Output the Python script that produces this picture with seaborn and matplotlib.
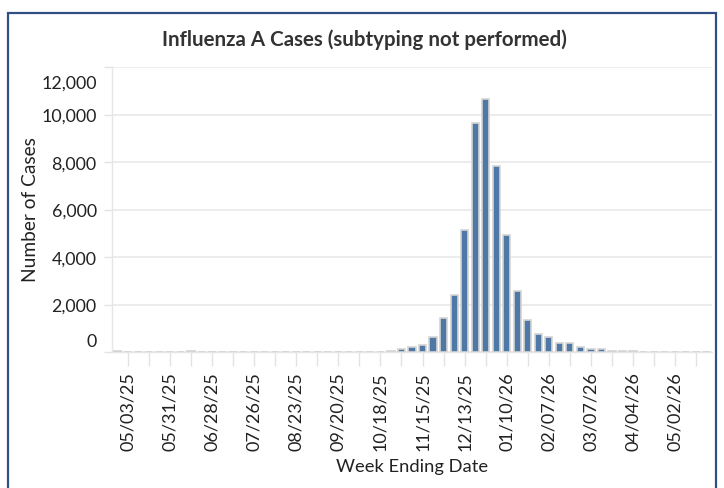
import matplotlib
matplotlib.use("Agg")
import matplotlib.pyplot as plt
from matplotlib.patches import Rectangle
from matplotlib.transforms import ScaledTranslation
import seaborn as sns
import pandas as pd

# ---- data ----
week_start = "2025-04-26"
n_weeks = 57
cases = [22, 20, 18, 20, 21, 19, 20, 22, 20, 18, 20, 19,
         5, 4, 6, 5, 6,
         18, 20, 19, 17, 18, 20, 19, 18, 17,
         45, 130, 200, 300, 650, 1420, 2410, 5130, 9645, 10640,
         7850, 4925, 2575, 1345, 770, 620, 396, 396, 190, 120, 120,
         45, 45, 45, 15, 15, 15, 15, 15, 3, 15]
tick_labels = ["05/03/25", "05/31/25", "06/28/25", "07/26/25", "08/23/25",
               "09/20/25", "10/18/25", "11/15/25", "12/13/25", "01/10/26",
               "02/07/26", "03/07/26", "04/04/26", "05/02/26"]
y_ticks = [0, 2000, 4000, 6000, 8000, 10000, 12000]
title = "Influenza A Cases (subtyping not performed)"

weeks = pd.date_range(week_start, periods=n_weeks, freq="7D").strftime("%m/%d/%y")
df = pd.DataFrame({"week": weeks, "cases": cases})

sns.set_theme(style="white")
plt.rcParams["font.family"] = ["Lato", "DejaVu Sans"]

fig = plt.figure(figsize=(7.24, 4.89), dpi=100)
ax = fig.add_axes([112/724, 1-353/489, 600/724, 285/489])

sns.barplot(data=df, x="week", y="cases", ax=ax, color="#4e79a7",
            saturation=1, width=0.68, edgecolor="#d4d4d4", linewidth=1.2,
            zorder=3)

ax.set_xlim(-0.5, n_weeks - 0.5)
ax.set_ylim(0, 12000)

# x ticks
label_pos = [list(weeks).index(l) for l in tick_labels]
ax.set_xticks(label_pos)
ax.set_xticklabels(tick_labels, rotation=90, fontsize=13, color="#222222")
ax.set_xticks([p + 2 for p in label_pos if p + 2 < n_weeks], minor=True)
ax.tick_params(axis="x", which="both", length=10, width=1, color="#e3e3e3",
               bottom=True, pad=4)

# y ticks
ax.set_yticks(y_ticks)
ax.set_yticklabels([f"{v:,}" for v in y_ticks], fontsize=12.8, color="#222222")
ax.tick_params(axis="y", length=6, width=1, color="#e3e3e3", left=True, pad=5)
lbls = ax.get_yticklabels()
lbls[0].set_transform(lbls[0].get_transform() + ScaledTranslation(0, 12/100, fig.dpi_scale_trans))
lbls[-1].set_transform(lbls[-1].get_transform() + ScaledTranslation(0, -14/100, fig.dpi_scale_trans))

ax.grid(axis="y", color="#ececec", linewidth=1.4, zorder=0)
ax.grid(axis="x", visible=False)
for s in ["top", "right"]:
    ax.spines[s].set_visible(False)
ax.spines["left"].set_color("#e6e6e6")
ax.spines["bottom"].set_color("#e6e6e6")
ax.spines["left"].set_linewidth(1)
ax.spines["bottom"].set_linewidth(1)
ax.axhline(12000, color="#ececec", linewidth=1.4, zorder=0)

ax.set_xlabel("Week Ending Date", fontsize=13.2, color="#222222")
ax.set_ylabel("Number of Cases", fontsize=13.8, color="#222222")
ax.xaxis.set_label_coords((412-112)/600, -(467-353)/285)
ax.yaxis.set_label_coords(-(112-31)/600, (353-210)/285)
ax.xaxis.label.set_va("center")
ax.yaxis.label.set_va("center")

fig.text(364/724, 1-40/489, title, ha="center", va="center",
         fontsize=14.8, fontweight="bold", color="#333333")

# outer frame
fig.patches.append(Rectangle((8/724, -0.1), (716-8)/724, 1.1 - 14/489,
                             transform=fig.transFigure, fill=False,
                             edgecolor="#2f4f85", linewidth=1.6))

fig.savefig("out.png", dpi=100)
